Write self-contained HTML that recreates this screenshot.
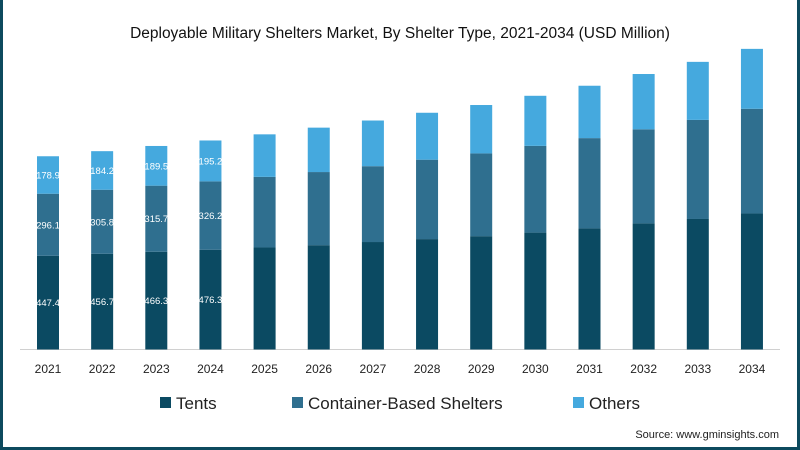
<!DOCTYPE html>
<html><head><meta charset="utf-8"><style>
html,body{margin:0;padding:0;background:#fff}
#wrap{position:relative;width:800px;height:450px;box-sizing:border-box;border:3px solid #0d4a5e;border-top:none;overflow:hidden;font-family:"Liberation Sans",sans-serif}
</style></head><body>
<div id="wrap">
<svg id="chart" width="794" height="447" viewBox="3 0 794 447" style="position:absolute;left:0;top:0"></svg>
</div>
<script>
const years=['2021','2022','2023','2024','2025','2026','2027','2028','2029','2030','2031','2032','2033','2034'];
const tents=[447.4,456.7,466.3,476.3,487,498,513,527,541,558,578,602,623,649];
const containers=[296.1,305.8,315.7,326.2,337,349,362,379,395,414,431,449,473,500];
const others=[178.9,184.2,189.5,195.2,203,212,218,224,231,239,250,264,277,286];
const labeledCount=4;
const NS='http://www.w3.org/2000/svg';
const svg=document.getElementById('chart');
const baseY=349.5, pxPer=0.2095, x0=48, step=54.15, bw=22;
const xc=i=>x0+i*step;
const yv=v=>baseY-v*pxPer;
function mk(tag,attrs,parent){const e=document.createElementNS(NS,tag);for(const k in attrs)e.setAttribute(k,attrs[k]);(parent||svg).appendChild(e);return e;}
const title=mk('text',{x:400,y:38,'text-anchor':'middle','font-size':'15.5','fill':'#111'});
title.textContent='Deployable Military Shelters Market, By Shelter Type, 2021-2034 (USD Million)';


const axis=mk('line',{x1:20,x2:780,y1:baseY,y2:baseY,stroke:'#d0d0d0','stroke-width':1});


const series=[[tents,'#0b4a62','tents'],[containers,'#2f6f8f','container-based-shelters'],[others,'#45a9de','others']];
years.forEach((yr,i)=>{
  let cum=0;
  series.forEach(([arr,col,nm])=>{
    const v=arr[i];const yTop=yv(cum+v),yB=yv(cum);
    const r=mk('rect',{x:xc(i)-bw/2,y:yTop,width:bw,height:yB-yTop,fill:col});
    
    
    if(i<labeledCount){
      const t=mk('text',{x:xc(i),y:(yTop+yB)/2+3.5,'text-anchor':'middle','font-size':'9.5',fill:'#fff'});
      t.textContent=v.toFixed(1);
      
      
    }
    cum+=v;
  });
  const l=mk('text',{x:xc(i),y:373,'text-anchor':'middle','font-size':'12',fill:'#222'});
  l.textContent=yr;
  
  
});
const legend=[['Tents','#0b4a62',160],['Container-Based Shelters','#2f6f8f',292],['Others','#45a9de',573]];
legend.forEach(([txt,col,x])=>{
  const g=mk('g',{});
  
  
  mk('rect',{x:x,y:397,width:11,height:11,fill:col},g);
  const t=mk('text',{x:x+16,y:409,'font-size':'17',fill:'#222'},g);
  t.textContent=txt;
});
const src=mk('text',{x:779,y:438,'text-anchor':'end','font-size':'11',fill:'#222'});
src.textContent='Source: www.gminsights.com';


</script>
</body></html>
